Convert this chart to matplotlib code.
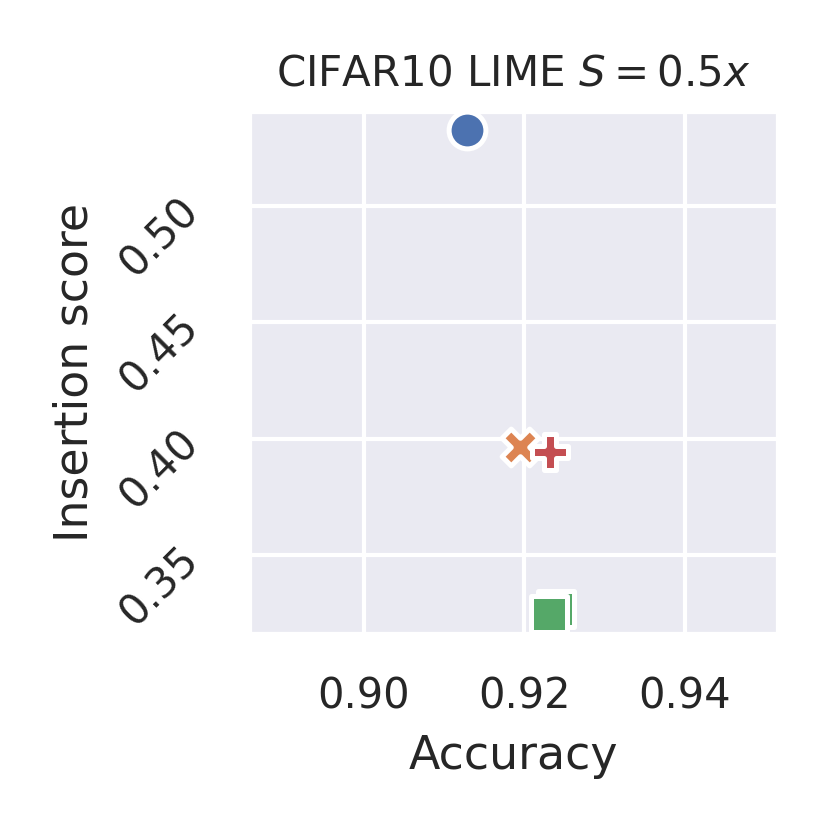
import matplotlib
matplotlib.use("Agg")
import matplotlib.pyplot as plt
import seaborn as sns

sns.set_theme(style="darkgrid")
plt.rcParams['font.family'] = ['DejaVu Sans']

methods = ["A", "B", "C", "C", "D"]
accuracy = [0.9129, 0.9195, 0.9240, 0.9231, 0.9232]
insertion = [0.5328, 0.3965, 0.3268, 0.3245, 0.3944]
markers = {"A": "o", "B": "X", "C": "s", "D": "P"}
palette = sns.color_palette()
colors = {"A": palette[0], "B": palette[1], "C": palette[2], "D": palette[3]}

fig = plt.figure(figsize=(830/300, 830/300), dpi=300)
ax = fig.add_axes([249/830, 1 - 634/830, 529/830, 523/830])

for i in range(len(methods)):
    m = methods[i]
    ax.scatter(accuracy[i], insertion[i], marker=markers[m], color=colors[m],
               s=78, edgecolor="white", linewidth=1.2, zorder=3)

ax.set_xlim(0.8857, 0.9516)
ax.set_ylim(0.3159, 0.5410)
ax.set_xticks([0.90, 0.92, 0.94])
ax.set_yticks([0.35, 0.40, 0.45, 0.50])
ax.set_xticklabels(["0.90", "0.92", "0.94"])
ax.set_yticklabels(["0.35", "0.40", "0.45", "0.50"], rotation=45)
ax.tick_params(axis="both", labelsize=10, pad=4)
ax.set_xlabel("Accuracy", fontsize=11)
ax.set_ylabel("Insertion score", fontsize=11, labelpad=3.5)
ax.set_title(r"CIFAR10 LIME $S = 0.5x$", fontsize=10.1)

fig.savefig("out.png", dpi=300)
